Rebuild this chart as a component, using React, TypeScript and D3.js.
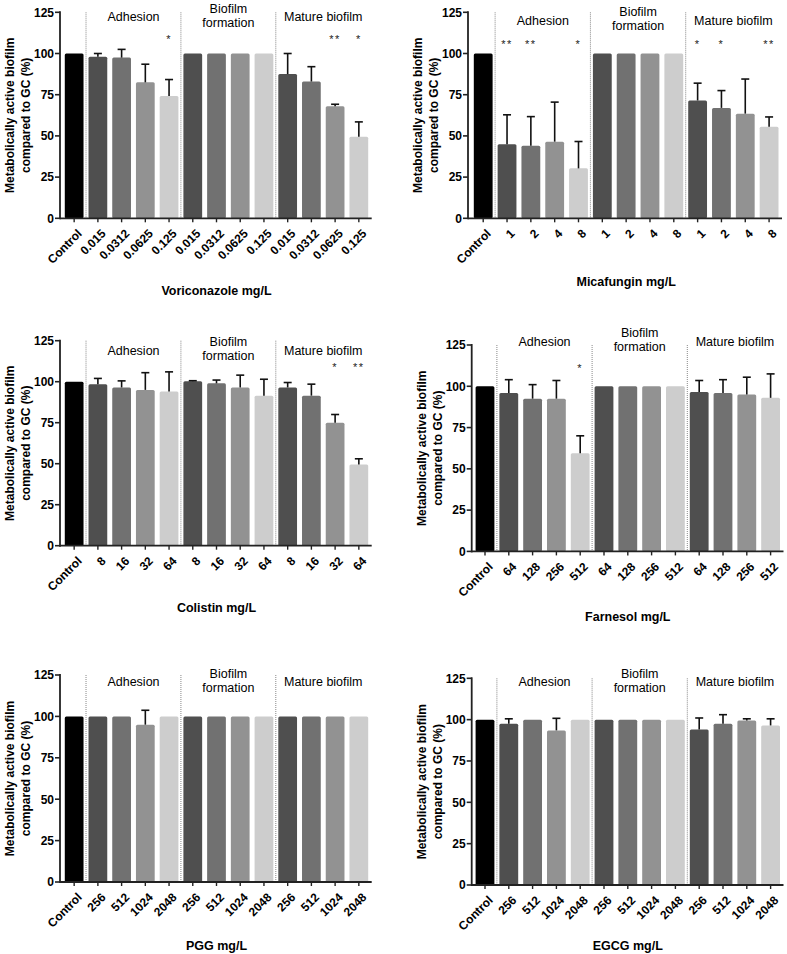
import * as d3 from 'd3'

// group headers drawn above each panel
const groupNames = ['Adhesion', 'Biofilm formation', 'Mature biofilm']
const yTicks = [0, 25, 50, 75, 100, 125]

const vorLabels = ['Control', '0.015', '0.0312', '0.0625', '0.125', '0.015', '0.0312', '0.0625', '0.125', '0.015', '0.0312', '0.0625', '0.125']
const vorMeans = [100, 98, 97.5, 82.5, 74.2, 100, 100, 100, 100, 87.5, 83, 68, 49.5]
const vorErrors = [0, 2, 5, 11, 10, 0, 0, 0, 0, 12.5, 9, 1.2, 9]
const vorSig = ['', '', '', '', '*', '', '', '', '', '', '', '**', '*']

const micLabels = ['Control', '1', '2', '4', '8', '1', '2', '4', '8', '1', '2', '4', '8']
const micMeans = [100, 45, 44, 46.5, 30.3, 100, 100, 100, 100, 71.5, 67, 63.5, 55.5]
const micErrors = [0, 17.8, 17.7, 24, 16.3, 0, 0, 0, 0, 10.5, 10.5, 21, 6]
const micSig = ['', '**', '**', '', '*', '', '', '', '', '*', '*', '', '**']

const colLabels = ['Control', '8', '16', '32', '64', '8', '16', '32', '64', '8', '16', '32', '64']
const colMeans = [100, 98.5, 96.5, 95, 94, 100.3, 99, 96.5, 91.5, 96.5, 91.5, 75, 49.5]
const colErrors = [0, 3.5, 4, 10.5, 12, 0.3, 2, 7.5, 10, 3, 7, 5, 3.5]
const colSig = ['', '', '', '', '', '', '', '', '', '', '', '*', '**']

const farLabels = ['Control', '64', '128', '256', '512', '64', '128', '256', '512', '64', '128', '256', '512']
const farMeans = [100, 96, 92.5, 92.5, 59.5, 100, 100, 100, 100, 96.5, 96, 95, 93]
const farErrors = [0, 8, 8.5, 11, 10.5, 0, 0, 0, 0, 7, 8, 10.5, 14.5]
const farSig = ['', '', '', '', '*', '', '', '', '', '', '', '', '']

const pggLabels = ['Control', '256', '512', '1024', '2048', '256', '512', '1024', '2048', '256', '512', '1024', '2048']
const pggMeans = [100, 100, 100, 95, 100, 100, 100, 100, 100, 100, 100, 100, 100]
const pggErrors = [0, 0, 0, 8.7, 0, 0, 0, 0, 0, 0, 0, 0, 0]

const egcgLabels = pggLabels
const egcgMeans = [100, 97.5, 100, 93.5, 100, 100, 100, 100, 100, 94, 97.5, 99.5, 96.5]
const egcgErrors = [0, 3, 0, 7.3, 0, 0, 0, 0, 0, 7, 5.5, 1, 4]

const barColors = ['#000000', '#4f4f4f', '#717171', '#929292', '#cdcdcd']
const font = '"Liberation Sans", Arial, sans-serif'

type PanelProps = {
  labels: string[]
  means: number[]
  errors: number[]
  sig?: string[]
  title: string
  axisX: number
  left: number
  right: number
  top: number
  bottom: number
  labelY: number
  sigValue?: number
  titleY: number
}

function Panel({ labels, means, errors, sig, title, axisX, left, right, top, bottom, labelY, sigValue = 110, titleY }: PanelProps) {
  const ids = labels.map((_, i) => String(i))
  const x = d3.scaleBand<string>().domain(ids).range([left, right]).paddingInner(0.21).paddingOuter(0.105)
  const y = d3.scaleLinear().domain([0, 125]).range([bottom, top])
  const step = x.step()
  const cx = (i: number) => (x(String(i)) ?? 0) + x.bandwidth() / 2
  const color = (i: number) => (i === 0 ? barColors[0] : barColors[((i - 1) % 4) + 1])

  // separators sit halfway between groups
  const seps = [0, 4, 8].map((i) => cx(i) + step / 2)
  const groupCenters = [2.5, 6.5, 10.5].map((i) => cx(Math.floor(i)) + step / 2)
  const midY = (top + bottom) / 2

  return (
    <g fontFamily={font}>
      {seps.map((s, i) => (
        <line key={'s' + i} x1={s} x2={s} y1={top} y2={bottom} stroke="#888" strokeWidth={1} strokeDasharray="1,1" />
      ))}

      {means.map((m, i) => (
        <rect key={'b' + i} x={x(String(i))} y={y(m)} width={x.bandwidth()} height={bottom - y(m)} rx={1.5} fill={color(i)} />
      ))}

      {means.map((m, i) =>
        errors[i] > 0 ? (
          <g key={'e' + i} stroke="#111" strokeWidth={1.6}>
            <line x1={cx(i)} x2={cx(i)} y1={y(m)} y2={y(m + errors[i])} />
            <line x1={cx(i) - 4} x2={cx(i) + 4} y1={y(m + errors[i])} y2={y(m + errors[i])} />
          </g>
        ) : null
      )}

      {sig && sig.map((s, i) =>
        s ? (
          <text key={'a' + i} x={cx(i)} y={y(sigValue) + 6} textAnchor="middle" fontSize={11} letterSpacing={1.5} fill="#222">{s}</text>
        ) : null
      )}

      <text x={groupCenters[0]} y={labelY + 4} textAnchor="middle" fontSize={12.5}>{groupNames[0]}</text>
      <text x={groupCenters[1]} y={labelY - 8.5 + 4} textAnchor="middle" fontSize={12.5}>Biofilm</text>
      <text x={groupCenters[1]} y={labelY + 5.5 + 4} textAnchor="middle" fontSize={12.5}>formation</text>
      <text x={groupCenters[2]} y={labelY + 4} textAnchor="middle" fontSize={12.5}>{groupNames[2]}</text>

      {/* axes */}
      <line x1={axisX} x2={axisX} y1={top - 1} y2={bottom + 1} stroke="#222" strokeWidth={1.8} />
      <line x1={axisX} x2={right + 1} y1={bottom} y2={bottom} stroke="#222" strokeWidth={1.8} />
      {yTicks.map((t) => (
        <g key={'y' + t}>
          <line x1={axisX - 5} x2={axisX} y1={y(t)} y2={y(t)} stroke="#222" strokeWidth={1.6} />
          <text x={axisX - 6} y={y(t) + 4.3} textAnchor="end" fontSize={12} fontWeight="bold">{t}</text>
        </g>
      ))}
      {labels.map((l, i) => (
        <g key={'x' + i}>
          <line x1={cx(i)} x2={cx(i)} y1={bottom} y2={bottom + 4} stroke="#222" strokeWidth={1.4} />
          <text transform={`translate(${cx(i) + 8.5},${bottom + 16}) rotate(-45)`} textAnchor="end" fontSize={12} fontWeight="bold">{l}</text>
        </g>
      ))}

      <text transform={`translate(${axisX - 46},${midY}) rotate(-90)`} textAnchor="middle" fontSize={12} fontWeight="bold">Metabolically active biofilm</text>
      <text transform={`translate(${axisX - 30},${midY}) rotate(-90)`} textAnchor="middle" fontSize={12} fontWeight="bold">compared to GC (%)</text>

      <text x={(left + right) / 2} y={titleY + 4.5} textAnchor="middle" fontSize={12.5} fontWeight="bold">{title}</text>
    </g>
  )
}

export default function App() {
  return (
    <svg width={787} height={954} style={{ position: 'absolute', left: 0, top: 0, background: '#fff' }}>
      <Panel labels={vorLabels} means={vorMeans} errors={vorErrors} sig={vorSig} title="Voriconazole mg/L"
        axisX={60} left={62.3} right={370.7} top={12.3} bottom={218.3} labelY={17} sigValue={110} titleY={290} />
      <Panel labels={micLabels} means={micMeans} errors={micErrors} sig={micSig} title="Micafungin mg/L"
        axisX={468} left={471.3} right={781} top={12.3} bottom={218.3} labelY={20.7} sigValue={107} titleY={281} />
      <Panel labels={colLabels} means={colMeans} errors={colErrors} sig={colSig} title="Colistin mg/L"
        axisX={60} left={62.3} right={370.7} top={340.7} bottom={545.7} labelY={350.7} sigValue={110} titleY={607} />
      <Panel labels={farLabels} means={farMeans} errors={farErrors} sig={farSig} title="Farnesol mg/L"
        axisX={471.7} left={473.1} right={782.5} top={345} bottom={551.4} labelY={341.7} sigValue={112.5} titleY={616} />
      <Panel labels={pggLabels} means={pggMeans} errors={pggErrors} title="PGG mg/L"
        axisX={60} left={62.3} right={370.7} top={675} bottom={882} labelY={682.3} titleY={945} />
      <Panel labels={egcgLabels} means={egcgMeans} errors={egcgErrors} title="EGCG mg/L"
        axisX={471.7} left={473.1} right={782.5} top={678.3} bottom={885} labelY={682.3} titleY={945} />
    </svg>
  )
}
